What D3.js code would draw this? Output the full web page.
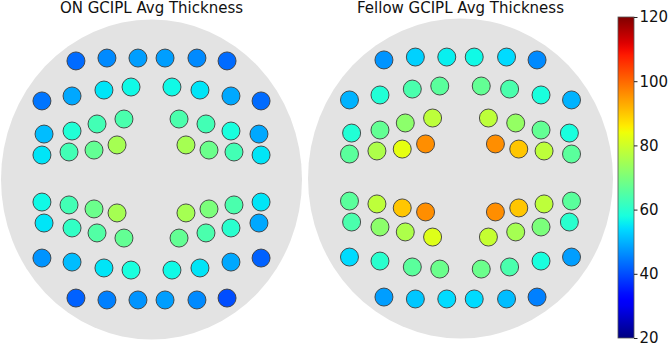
<html>
<head>
<script src="https://d3js.org/d3.v7.min.js"></script>
<style>
  body { margin: 0; background: #fff; }
  text { font-family: "DejaVu Sans", sans-serif; fill: #111; }
  .cbar .domain { display: none; }
  .cbar line { stroke: #222; }
</style>
</head>
<body>
<svg id="chart" width="669" height="346"></svg>
<script>
// sector positions, normalised to the grey disc (x: -1..1 left->right, y: -1..1 bottom->top)
const sectorX = [
  -0.502, -0.296, -0.090, 0.090, 0.302, 0.502,
  -0.728, -0.528, -0.316, -0.136, 0.136, 0.322, 0.528, 0.728,
  -0.714, -0.528, -0.362, -0.183, 0.183, 0.362, 0.528, 0.714,
  -0.728, -0.548, -0.382, -0.229, 0.229, 0.382, 0.548, 0.728,
  -0.728, -0.548, -0.382, -0.229, 0.229, 0.382, 0.548, 0.728,
  -0.714, -0.528, -0.362, -0.183, 0.183, 0.362, 0.528, 0.714,
  -0.728, -0.528, -0.316, -0.136, 0.136, 0.322, 0.528, 0.728,
  -0.502, -0.296, -0.090, 0.090, 0.302, 0.502
];
const sectorY = [
  0.741, 0.759, 0.759, 0.759, 0.759, 0.741,
  0.491, 0.522, 0.559, 0.578, 0.578, 0.559, 0.522, 0.491,
  0.284, 0.303, 0.347, 0.378, 0.378, 0.347, 0.303, 0.284,
  0.153, 0.172, 0.184, 0.216, 0.216, 0.184, 0.172, 0.153,
  -0.141, -0.159, -0.184, -0.209, -0.209, -0.184, -0.159, -0.141,
  -0.272, -0.303, -0.334, -0.366, -0.366, -0.334, -0.303, -0.272,
  -0.491, -0.516, -0.553, -0.566, -0.566, -0.553, -0.516, -0.491,
  -0.741, -0.753, -0.753, -0.753, -0.753, -0.741
];

const onValues = [
  43, 46, 48, 48, 46, 43,
  44, 49, 55, 57, 57, 55, 49, 43,
  51, 59, 63, 64, 64, 63, 58, 49,
  55, 63, 67, 75, 75, 68, 63, 55,
  57, 63, 68, 75, 75, 70, 64, 55,
  55, 61, 65, 67, 67, 64, 60, 49,
  47, 51, 55, 58, 57, 55, 49, 42,
  42, 45, 47, 48, 46, 40
];
const fellowValues = [
  47, 53, 56, 57, 54, 46,
  50, 59, 64, 66, 67, 64, 58, 50,
  59, 67, 72, 78, 78, 73, 67, 58,
  66, 76, 83, 96, 96, 90, 78, 66,
  66, 78, 90, 96, 96, 90, 78, 66,
  64, 72, 76, 82, 79, 75, 70, 60,
  54, 60, 66, 68, 68, 64, 58, 48,
  48, 52, 54, 54, 51, 45
];

const titles = ["ON GCIPL Avg Thickness", "Fellow GCIPL Avg Thickness"];
const cbarTicks = [20, 40, 60, 80, 100, 120];
const vmin = 20, vmax = 120;

const svg = d3.select("#chart");

// matplotlib "jet" built from piecewise linear scales
const jetR = d3.scaleLinear().domain([0, 0.35, 0.66, 0.89, 1]).range([0, 0, 1, 1, 0.5]).clamp(true);
const jetG = d3.scaleLinear().domain([0, 0.125, 0.375, 0.64, 0.91, 1]).range([0, 0, 1, 1, 0, 0]).clamp(true);
const jetB = d3.scaleLinear().domain([0, 0.11, 0.34, 0.65, 1]).range([0.5, 1, 1, 0, 0]).clamp(true);
const norm = d3.scaleLinear().domain([vmin, vmax]).range([0, 1]).clamp(true);
const jet = t => d3.rgb(jetR(t) * 255, jetG(t) * 255, jetB(t) * 255).formatHex();
const color = v => jet(norm(v));

const panels = [
  {cx: 151.5, cy: 179.5, rx: 150.5, ry: 160, values: onValues, title: titles[0]},
  {cx: 460.5, cy: 178.5, rx: 152.5, ry: 160, values: fellowValues, title: titles[1]}
];

panels.forEach(p => {
  const x = d3.scaleLinear().domain([-1, 1]).range([p.cx - p.rx, p.cx + p.rx]);
  const y = d3.scaleLinear().domain([-1, 1]).range([p.cy + p.ry, p.cy - p.ry]);
  const g = svg.append("g");

  g.append("ellipse")
    .attr("cx", x(0)).attr("cy", y(0))
    .attr("rx", x(1) - x(0)).attr("ry", y(-1) - y(0))
    .attr("fill", "#e3e3e3");

  g.selectAll("circle")
    .data(p.values)
    .join("circle")
    .attr("cx", (d, i) => x(sectorX[i]))
    .attr("cy", (d, i) => y(sectorY[i]))
    .attr("r", 9)
    .attr("fill", d => color(d))
    .attr("stroke", "#3c3c3c")
    .attr("stroke-width", 0.9);

  g.append("text")
    .attr("x", x(0)).attr("y", 13)
    .attr("text-anchor", "middle")
    .style("font-size", "15px")
    .text(p.title);
});

// colorbar
const cbX = 618, cbW = 16, cbTop = 17, cbBottom = 338;
const cbScale = d3.scaleLinear().domain([vmin, vmax]).range([cbBottom, cbTop]);
const grad = svg.append("defs").append("linearGradient")
  .attr("id", "jetGrad").attr("x1", 0).attr("y1", 1).attr("x2", 0).attr("y2", 0);
d3.range(0, 1.0001, 0.02).forEach(t => {
  grad.append("stop").attr("offset", t).attr("stop-color", jet(t));
});
svg.append("rect")
  .attr("x", cbX).attr("y", cbTop)
  .attr("width", cbW).attr("height", cbBottom - cbTop)
  .attr("fill", "url(#jetGrad)")
  .attr("stroke", "#555").attr("stroke-width", 0.8);

const cbAxis = d3.axisRight(cbScale).tickValues(cbarTicks).tickSize(3.5).tickPadding(2);
svg.append("g").attr("class", "cbar")
  .attr("transform", "translate(" + (cbX + cbW) + ",0)")
  .call(cbAxis)
  .selectAll("text")
  .style("font-size", "15px")
  .style("font-family", "DejaVu Sans, sans-serif")
  .attr("fill", "#111");
</script>
</body>
</html>
